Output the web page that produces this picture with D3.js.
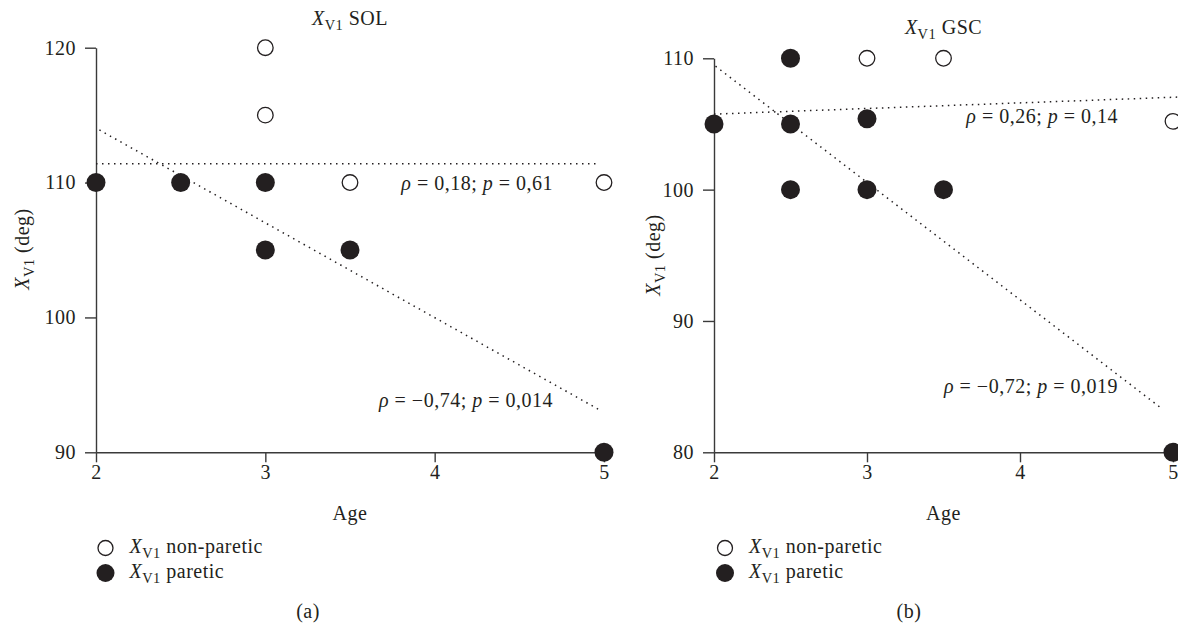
<!DOCTYPE html>
<html><head><meta charset="utf-8">
<script src="https://cdn.jsdelivr.net/npm/d3@7"></script>
<style>
body{margin:0;background:#fff}
text{font-family:"Liberation Serif","Times New Roman",serif;fill:#231f20;letter-spacing:0.5px}
</style>
</head><body><svg id="c" width="1178" height="626"></svg>
<script>
// ---- data ----
const ageTicks = [2, 3, 4, 5];
const solTicks = [90, 100, 110, 120];
const gscTicks = [80, 90, 100, 110];
const solNonAge = [3, 3, 3.5, 5];
const solNonVal = [120, 115, 110, 110];
const solParAge = [2, 2.5, 3, 3, 3.5, 5];
const solParVal = [110, 110, 110, 105, 105, 90];
const gscNonAge = [3, 3.5, 5];
const gscNonVal = [110, 110, 105.2];
const gscParAge = [2, 2.5, 2.5, 2.5, 3, 3, 3.5, 5];
const gscParVal = [105, 110, 105, 100, 105.4, 100, 100, 80];
const solParFitAge = [2.02, 4.98], solParFitVal = [113.9, 93.1];
const solNonFitAge = [2, 4.97],   solNonFitVal = [111.4, 111.4];
const gscParFitAge = [2.01, 4.93], gscParFitVal = [109.4, 83.3];
const gscNonFitAge = [2, 5.04],   gscNonFitVal = [105.75, 107.05];
const panelNames = ["SOL", "GSC"];
const panelTags = ["(a)", "(b)"];
const rhoNon = ["0,18", "0,26"], pNon = ["0,61", "0,14"];
const rhoPar = ["−0,74", "−0,72"], pPar = ["0,014", "0,019"];
const legendLabels = ["non-paretic", "paretic"];

const ink = "#231f20";
const svg = d3.select("#c");
const FS = 20;

function xv1(sel, suffix) {
  sel.append("tspan").attr("font-style", "italic").text("X");
  sel.append("tspan").attr("font-size", FS * 0.72).attr("dy", 4.5).text("V1");
  sel.append("tspan").attr("dy", -4.5).text(suffix);
}
function stat(sel, r, p) {
  sel.append("tspan").attr("font-style", "italic").text("ρ");
  sel.append("tspan").text(" = " + r + "; ");
  sel.append("tspan").attr("font-style", "italic").text("p");
  sel.append("tspan").text(" = " + p);
}

const panels = [
  {xr: [96, 604], yd: [90, 120], yr: [452.3, 47.7], ticks: solTicks,
   non: [solNonAge, solNonVal], par: [solParAge, solParVal],
   fitNon: [solNonFitAge, solNonFitVal], fitPar: [solParFitAge, solParFitVal],
   titleY: 25, ylabX: 22, ylabY: 249, annX: 553, annNonY: 190, annParY: 407,
   legX: 105.5, tagX: 308},
  {xr: [714, 1173], yd: [80, 110], yr: [452.3, 58.3], ticks: gscTicks,
   non: [gscNonAge, gscNonVal], par: [gscParAge, gscParVal],
   fitNon: [gscNonFitAge, gscNonFitVal], fitPar: [gscParFitAge, gscParFitVal],
   titleY: 34, ylabX: 653, ylabY: 255, annX: 1118, annNonY: 123, annParY: 393,
   legX: 725, tagX: 909}
];

panels.forEach((o, i) => {
  const x = d3.scaleLinear().domain([2, 5]).range(o.xr);
  const y = d3.scaleLinear().domain(o.yd).range(o.yr);
  const g = svg.append("g");

  // axes
  const ax = g.append("g").attr("transform", `translate(0,${y(o.yd[0])})`)
    .call(d3.axisBottom(x).tickValues(ageTicks).tickSize(10).tickSizeOuter(0).tickPadding(3).tickFormat(d3.format("d")));
  const ay = g.append("g").attr("transform", `translate(${x(2)},0)`)
    .call(d3.axisLeft(y).tickValues(o.ticks).tickSize(11).tickSizeOuter(0).tickPadding(9).tickFormat(d3.format("d")));
  [ax, ay].forEach(a => {
    a.selectAll("path,line").attr("stroke", "#3a3a3a").attr("stroke-width", 1.4);
    a.selectAll("text").attr("font-size", FS).attr("font-family", null).style("fill", ink);
  });

  // trend lines
  const line = d3.line().x(d => x(d[0])).y(d => y(d[1]));
  [o.fitNon, o.fitPar].forEach(f => {
    g.append("path").attr("d", line(d3.zip(f[0], f[1])))
      .attr("fill", "none").attr("stroke", ink).attr("stroke-width", 1.5)
      .attr("stroke-dasharray", "1.5,4.5");
  });

  // points
  g.selectAll(".par").data(d3.zip(o.par[0], o.par[1])).join("circle")
    .attr("cx", d => x(d[0])).attr("cy", d => y(d[1])).attr("r", 9.5).attr("fill", ink);
  g.selectAll(".non").data(d3.zip(o.non[0], o.non[1])).join("circle")
    .attr("cx", d => x(d[0])).attr("cy", d => y(d[1])).attr("r", 7.8)
    .attr("fill", "#fff").attr("stroke", ink).attr("stroke-width", 1.3);

  // title
  const cx = (o.xr[0] + o.xr[1]) / 2;
  xv1(g.append("text").attr("x", cx).attr("y", o.titleY).attr("text-anchor", "middle").attr("font-size", FS), " " + panelNames[i]);

  // y label
  xv1(g.append("text").attr("transform", `translate(${o.ylabX},${o.ylabY}) rotate(-90)`)
    .attr("text-anchor", "middle").attr("dy", "0.35em").attr("font-size", FS), " (deg)");

  // x label
  g.append("text").attr("x", cx).attr("y", 520).attr("text-anchor", "middle").attr("font-size", FS).text("Age");

  // annotations
  stat(g.append("text").attr("x", o.annX).attr("y", o.annNonY).attr("text-anchor", "end").attr("font-size", FS), rhoNon[i], pNon[i]);
  stat(g.append("text").attr("x", o.annX).attr("y", o.annParY).attr("text-anchor", "end").attr("font-size", FS), rhoPar[i], pPar[i]);

  // legend
  g.append("circle").attr("cx", o.legX).attr("cy", 548).attr("r", 7.5).attr("fill", "#fff").attr("stroke", ink).attr("stroke-width", 1.3);
  g.append("circle").attr("cx", o.legX).attr("cy", 573).attr("r", 9).attr("fill", ink);
  xv1(g.append("text").attr("x", o.legX + 24).attr("y", 553).attr("font-size", FS), " " + legendLabels[0]);
  xv1(g.append("text").attr("x", o.legX + 24).attr("y", 578).attr("font-size", FS), " " + legendLabels[1]);

  // panel tag
  g.append("text").attr("x", o.tagX).attr("y", 618).attr("text-anchor", "middle").attr("font-size", FS).text(panelTags[i]);
});
</script>
</body></html>
